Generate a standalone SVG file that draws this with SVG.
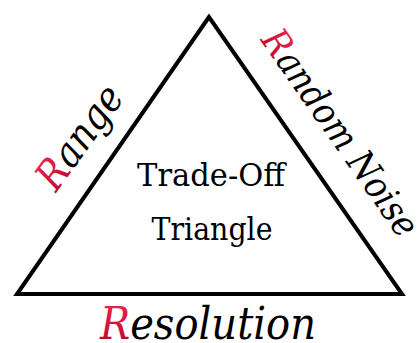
<svg xmlns="http://www.w3.org/2000/svg" width="417" height="343" viewBox="0 0 417 343">
<defs>
<linearGradient id="red" x1="0" y1="0" x2="0" y2="1">
<stop offset="0" stop-color="#f0284c"/>
<stop offset="0.6" stop-color="#d0123a"/>
<stop offset="1" stop-color="#9a0a24"/>
</linearGradient>
<style>
text{font-family:'DejaVu Serif',serif;fill:#000}
.c{font-size:32px;text-anchor:middle}
.i{font-style:italic}
.r{fill:url(#red)}
</style>
</defs>
<rect width="417" height="343" fill="#fff"/>
<g id="connectors">
<polygon points="209,17 17,294 402,294" fill="none" stroke="#000" stroke-width="4" stroke-linejoin="miter"/>
</g>
<g id="center">
<text class="c" x="211" y="186" textLength="148" lengthAdjust="spacingAndGlyphs">Trade-Off</text>
<text class="c" x="212" y="240" textLength="121" lengthAdjust="spacingAndGlyphs">Triangle</text>
</g>
<g id="range">
<text class="i" font-size="41" transform="translate(56,193) rotate(-54)" textLength="118" lengthAdjust="spacingAndGlyphs"><tspan class="r">R</tspan>ange</text>
</g>
<g id="noise">
<text class="i" font-size="37" transform="translate(260,40) rotate(55)" textLength="244" lengthAdjust="spacingAndGlyphs"><tspan class="r">R</tspan>andom Noise</text>
</g>
<g id="resolution">
<text class="i" font-size="45" x="100" y="339" textLength="216" lengthAdjust="spacingAndGlyphs"><tspan class="r">R</tspan>esolution</text>
</g>
</svg>
